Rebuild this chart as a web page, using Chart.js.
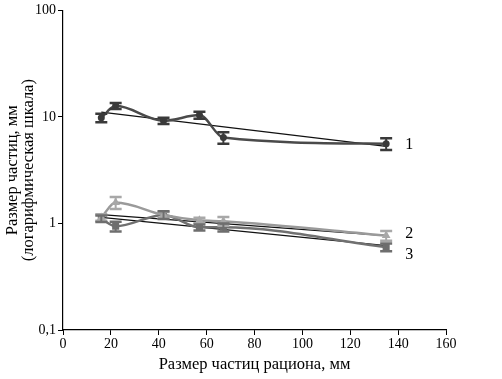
<!DOCTYPE html>
<html>
<head>
<meta charset="utf-8">
<script src="https://cdn.jsdelivr.net/npm/chart.js@4/dist/chart.umd.min.js"></script>
<style>
  html, body { margin: 0; padding: 0; background: #fff; }
  #wrap { width: 502px; height: 379px; }
</style>
</head>
<body>
<div id="wrap"><canvas id="chart" width="502" height="379"></canvas></div>
<script>
// размер частиц рациона, мм
const xValues = [16, 22, 42, 57, 67, 135];

// кривые 1, 2, 3 (мм, лог. шкала)
const series1 = [9.8, 12.7, 9.2, 10.4, 6.4, 5.6];
const series2 = [1.14, 1.57, 1.2, 1.07, 1.05, 0.77];
const series3 = [1.11, 0.94, 1.2, 0.92, 0.92, 0.6];

// погрешности
const err1 = [0.9, 0.8, 0.6, 0.8, 0.8, 0.7];
const err2 = [0.08, 0.2, 0.08, 0.06, 0.1, 0.08];
const err3 = [0.08, 0.1, 0.1, 0.06, 0.08, 0.05];

// линии тренда (концы)
const trendX = [16, 135];
const trend1 = [11.1, 5.3];
const trend2 = [1.21, 0.77];
const trend3 = [1.14, 0.62];

const yTicks = [0.1, 1, 10, 100];
const seriesLabels = ['1', '2', '3'];

const serif = "'Liberation Serif', 'DejaVu Serif', serif";

function pts(xs, ys) {
  return xs.map((x, i) => ({ x: x, y: ys[i] }));
}

// усы погрешностей + подписи кривых
const errorBars = {
  id: 'errorBars',
  afterDatasetsDraw(chart) {
    const ctx = chart.ctx;
    const xs = chart.scales.x, ys = chart.scales.y;
    const sets = [
      { v: series1, e: err1, c: '#3a3a3a' },
      { v: series2, e: err2, c: '#a8a8a8' },
      { v: series3, e: err3, c: '#6e6e6e' }
    ];
    ctx.save();
    sets.forEach(s => {
      ctx.strokeStyle = s.c;
      s.v.forEach((v, i) => {
        const px = xs.getPixelForValue(xValues[i]);
        const top = ys.getPixelForValue(v + s.e[i]);
        const bot = ys.getPixelForValue(v - s.e[i]);
        ctx.lineWidth = 2;
        ctx.beginPath();
        ctx.moveTo(px, top); ctx.lineTo(px, bot);
        ctx.stroke();
        ctx.lineWidth = 2.5;
        ctx.beginPath();
        ctx.moveTo(px - 6, top); ctx.lineTo(px + 6, top);
        ctx.moveTo(px - 6, bot); ctx.lineTo(px + 6, bot);
        ctx.stroke();
      });
    });
    // подписи 1, 2, 3
    ctx.fillStyle = '#000';
    ctx.font = '16px ' + serif;
    ctx.textBaseline = 'middle';
    const last = xValues.length - 1;
    const lx = xs.getPixelForValue(xValues[last]) + 19;
    ctx.fillText(seriesLabels[0], lx, ys.getPixelForValue(series1[last]) + 1);
    ctx.fillText(seriesLabels[1], lx, ys.getPixelForValue(series2[last]) - 2);
    ctx.fillText(seriesLabels[2], lx, ys.getPixelForValue(series3[last]) + 8);
    ctx.restore();
  }
};

const ctx = document.getElementById('chart').getContext('2d');
new Chart(ctx, {
  type: 'line',
  data: {
    datasets: [
      {
        data: pts(xValues, series1),
        borderColor: '#4a4a4a', backgroundColor: '#3a3a3a',
        borderWidth: 2.5, cubicInterpolationMode: 'monotone',
        pointStyle: 'circle', pointRadius: 3.5, pointBorderWidth: 0
      },
      {
        data: pts(xValues, series2),
        borderColor: '#9a9a9a', backgroundColor: '#a8a8a8',
        borderWidth: 2.5, cubicInterpolationMode: 'monotone',
        pointStyle: 'triangle', pointRadius: 5, pointBorderWidth: 0
      },
      {
        data: pts(xValues, series3),
        borderColor: '#707070', backgroundColor: '#6e6e6e',
        borderWidth: 2.5, cubicInterpolationMode: 'monotone',
        pointStyle: 'rect', pointRadius: 5, pointBorderWidth: 0
      },
      { data: pts(trendX, trend1), borderColor: '#111', borderWidth: 1.2, pointRadius: 0, tension: 0 },
      { data: pts(trendX, trend2), borderColor: '#111', borderWidth: 1.2, pointRadius: 0, tension: 0 },
      { data: pts(trendX, trend3), borderColor: '#111', borderWidth: 1.2, pointRadius: 0, tension: 0 }
    ]
  },
  options: {
    responsive: false,
    animation: false,
    layout: { padding: { top: -3, right: 56, left: 0, bottom: 0 } },
    plugins: { legend: { display: false }, tooltip: { enabled: false } },
    scales: {
      x: {
        type: 'linear', min: 0, max: 160,
        ticks: { stepSize: 20, color: '#000', font: { family: serif, size: 14 }, padding: 1 },
        grid: { display: true, drawOnChartArea: false, drawTicks: true, tickLength: 5, color: '#000' },
        border: { color: '#000', width: 1.2 },
        title: { display: true, text: 'Размер частиц рациона, мм', color: '#000', font: { family: serif, size: 16.5 }, padding: { top: 2 } },
        afterFit(scale) { scale.height = 49; }
      },
      y: {
        type: 'logarithmic', min: 0.1, max: 100,
        afterBuildTicks(scale) { scale.ticks = yTicks.map(v => ({ value: v })); },
        ticks: {
          color: '#000', font: { family: serif, size: 14 }, padding: 2,
          callback: v => String(v).replace('.', ',')
        },
        grid: { display: true, drawOnChartArea: false, drawTicks: true, tickLength: 5, color: '#000' },
        border: { color: '#000', width: 1.2 },
        title: {
          display: true, text: ['Размер частиц, мм', '(логарифмическая шкала)'],
          color: '#000', font: { family: serif, size: 16.5, lineHeight: 1.0 }, padding: { bottom: 1 }
        },
        afterFit(scale) { scale.width = 63; }
      }
    }
  },
  plugins: [errorBars]
});
</script>
</body>
</html>
